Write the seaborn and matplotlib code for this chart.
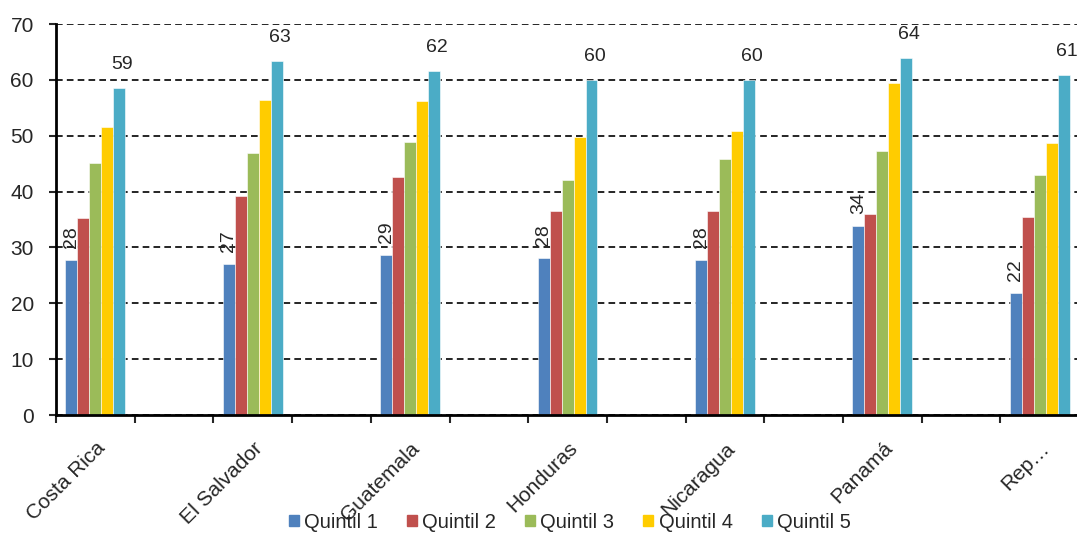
import numpy as np
import pandas as pd
import matplotlib.pyplot as plt
import seaborn as sns

countries = ['Costa Rica', 'El Salvador', 'Guatemala', 'Honduras', 'Nicaragua', 'Panamá', 'Rep…']
quintiles = ['Quintil 1', 'Quintil 2', 'Quintil 3', 'Quintil 4', 'Quintil 5']
q1 = [27.7, 27.1, 28.6, 28.2, 27.7, 33.9, 21.9]
q2 = [35.3, 39.2, 42.7, 36.6, 36.5, 36.0, 35.4]
q3 = [45.2, 46.9, 48.8, 42.1, 45.8, 47.2, 43.0]
q4 = [51.6, 56.4, 56.2, 49.8, 50.9, 59.4, 48.7]
q5 = [58.6, 63.4, 61.6, 60.0, 59.9, 64.0, 60.9]
colors = ['#4F81BD', '#C0504D', '#9BBB59', '#FFCC00', '#4BACC6']

rows = []
for q, vals in zip(quintiles, [q1, q2, q3, q4, q5]):
    for c, v in zip(countries, vals):
        rows.append({'pais': c, 'quintil': q, 'valor': v})
df = pd.DataFrame(rows)

# empty slots between countries, like the original chart
order = []
for i, c in enumerate(countries):
    order.append(c)
    if i < len(countries) - 1:
        order.append(' ' * (i + 1))

sns.set_style('white')
plt.rcParams['font.family'] = ['Liberation Sans', 'DejaVu Sans']

fig = plt.figure(figsize=(10.77, 5.36), dpi=100)
ax = fig.add_axes([0.052, 0.2257, 0.950, 0.7295])

sns.barplot(data=df, x='pais', y='valor', hue='quintil', order=order,
            hue_order=quintiles, palette=colors, width=0.76, gap=0,
            saturation=1, edgecolor='white', linewidth=0.4, ax=ax)

ax.set_ylim(0, 70)
ax.set_xlim(-0.5, len(order) - 0.5)
ax.set_yticks(range(0, 71, 10))
ax.set_axisbelow(True)
ax.yaxis.grid(True, color='black', linestyle=(0, (4, 2.5)), linewidth=1.2)
ax.xaxis.grid(False)

ax.set_xticks([order.index(c) for c in countries])
ax.set_xticklabels(countries, rotation=45, ha='right', rotation_mode='anchor', fontsize=15)
ax.set_xticks(np.arange(-0.5, len(order), 1), minor=True)
ax.tick_params(axis='x', which='major', length=0, pad=17)
ax.tick_params(axis='x', which='minor', length=6, width=1.5, direction='out', bottom=True)
ax.tick_params(axis='y', length=5, width=1.5, direction='out', left=True, labelsize=15, pad=11)
ax.set_xlabel('')
ax.set_ylabel('')
for s in ['top', 'right']:
    ax.spines[s].set_visible(False)
for s in ['left', 'bottom']:
    ax.spines[s].set_color('black')
    ax.spines[s].set_linewidth(2)

# data labels: quintil 1 rotated, quintil 5 horizontal
for bar, v in zip(ax.containers[0], q1):
    ax.annotate(f'{v:.0f}', (bar.get_x() + bar.get_width() / 2, bar.get_height()),
                xytext=(0, 12), textcoords='offset pixels', rotation=90,
                ha='center', va='bottom', fontsize=14)
for bar, v in zip(ax.containers[4], q5):
    ax.annotate(f'{v:.0f}', (bar.get_x() + bar.get_width() / 2, bar.get_height()),
                xytext=(3, 15), textcoords='offset pixels',
                ha='center', va='bottom', fontsize=14)

ax.get_legend().remove()
handles = [plt.Rectangle((0, 0), 1, 1, color=c) for c in colors]
fig.legend(handles, quintiles, loc='center', bbox_to_anchor=(0.529, 0.026), ncol=5,
           frameon=False, fontsize=14.5, handlelength=0.5, handleheight=0.5,
           handletextpad=0.25, columnspacing=1.45)

fig.savefig('out.png', dpi=100)
